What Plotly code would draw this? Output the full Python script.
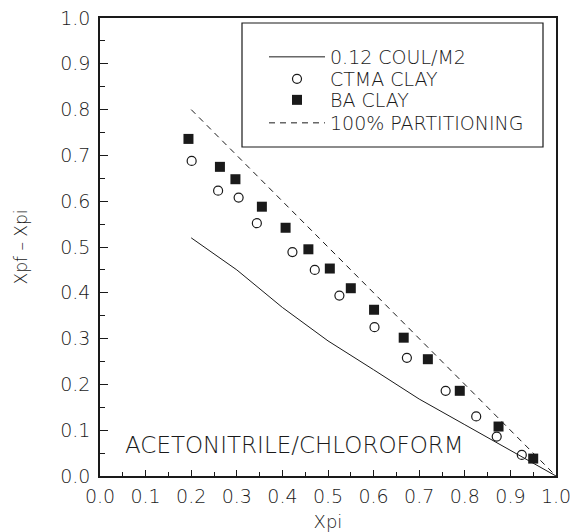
import plotly.graph_objects as go

# ---- data ----
coul_x = [0.2, 0.3, 0.4, 0.5, 0.6, 0.7, 0.8, 0.9, 1.0]
coul_y = [0.52, 0.45, 0.368, 0.295, 0.232, 0.168, 0.112, 0.056, 0.0]

ctma_x = [0.201, 0.259, 0.304, 0.344, 0.422, 0.471, 0.525, 0.602, 0.673, 0.758, 0.825, 0.870, 0.925]
ctma_y = [0.688, 0.623, 0.608, 0.552, 0.489, 0.450, 0.394, 0.325, 0.258, 0.186, 0.130, 0.086, 0.046]

ba_x = [0.194, 0.263, 0.297, 0.355, 0.407, 0.457, 0.504, 0.550, 0.601, 0.666, 0.719, 0.789, 0.874, 0.950]
ba_y = [0.736, 0.675, 0.648, 0.588, 0.542, 0.495, 0.453, 0.410, 0.363, 0.302, 0.255, 0.186, 0.108, 0.038]

part_x = [0.2, 1.0]
part_y = [0.8, 0.0]

tick_vals = [0.0, 0.1, 0.2, 0.3, 0.4, 0.5, 0.6, 0.7, 0.8, 0.9, 1.0]
tick_text = ["0.0", "0.1", "0.2", "0.3", "0.4", "0.5", "0.6", "0.7", "0.8", "0.9", "1.0"]

FONT = "DejaVu Sans"
INK = "#1a1a1a"

# plot-area geometry in pixels (for positioning legend frame/entries)
L, R, T, B = 100, 556, 18, 476
def px_x(p):
    return (p - L) / (R - L)
def px_y(p):
    return (B - p) / (B - T)

fig = go.Figure()
fig.add_trace(go.Scatter(x=coul_x, y=coul_y, mode="lines", name="0.12 COUL/M2",
                         line=dict(color=INK, width=1), legend="legend"))
fig.add_trace(go.Scatter(x=ctma_x, y=ctma_y, mode="markers", name="CTMA CLAY",
                         marker=dict(symbol="circle-open", size=9, color=INK, line=dict(width=1.2)),
                         legend="legend2"))
fig.add_trace(go.Scatter(x=ba_x, y=ba_y, mode="markers", name="BA CLAY",
                         marker=dict(symbol="square", size=10, color=INK), legend="legend3"))
fig.add_trace(go.Scatter(x=part_x, y=part_y, mode="lines", name="100% PARTITIONING",
                         line=dict(color=INK, width=1, dash="6px,5px"), legend="legend4"))

axis_common = dict(
    range=[0, 1], tickvals=tick_vals, ticktext=tick_text, automargin=False,
    showline=True, linecolor=INK, linewidth=1.5, mirror=True,
    ticks="inside", tickcolor=INK, showgrid=False, zeroline=False,
    tickfont=dict(family=FONT, size=19, color=INK, weight=200),
)

fig.update_xaxes(**axis_common, ticklen=6, ticklabelstandoff=2,
                 minor=dict(dtick=0.05, ticks="inside", ticklen=4, tickcolor=INK),
                 title=dict(text="Xpi", font=dict(family=FONT, size=18, color=INK, weight=200), standoff=10))
fig.update_yaxes(**axis_common, ticklen=8, ticklabelstandoff=4,
                 minor=dict(dtick=0.05, ticks="inside", ticklen=5, tickcolor=INK),
                 title=dict(text="Xpf – Xpi", font=dict(family=FONT, size=17, color=INK, weight=200), standoff=28))

# legend frame
fig.add_shape(type="rect", xref="paper", yref="paper",
              x0=px_x(242), x1=px_x(543), y0=px_y(147), y1=px_y(23),
              line=dict(color=INK, width=1.2), fillcolor="rgba(0,0,0,0)")

fig.add_annotation(text="ACETONITRILE/CHLOROFORM", x=0.05, y=0.068, xref="x", yref="y",
                   xanchor="left", yanchor="middle", showarrow=False,
                   font=dict(family=FONT, size=23, color=INK, weight=200))

leg_font = dict(family=FONT, size=19, color=INK, weight=200)
def leg(ypix):
    return dict(x=px_x(264), y=px_y(ypix), xanchor="left", yanchor="middle",
                bgcolor="rgba(0,0,0,0)", borderwidth=0, itemwidth=56, font=leg_font)

fig.update_layout(
    width=575, height=532,
    margin=dict(l=L, r=575 - R, t=T, b=532 - B),
    paper_bgcolor="white", plot_bgcolor="white",
    showlegend=True,
    legend=leg(57), legend2=leg(79), legend3=leg(100), legend4=leg(123),
)

fig.write_html("out.html", config={"displayModeBar": False},
               post_script="document.body.style.margin='0';")
